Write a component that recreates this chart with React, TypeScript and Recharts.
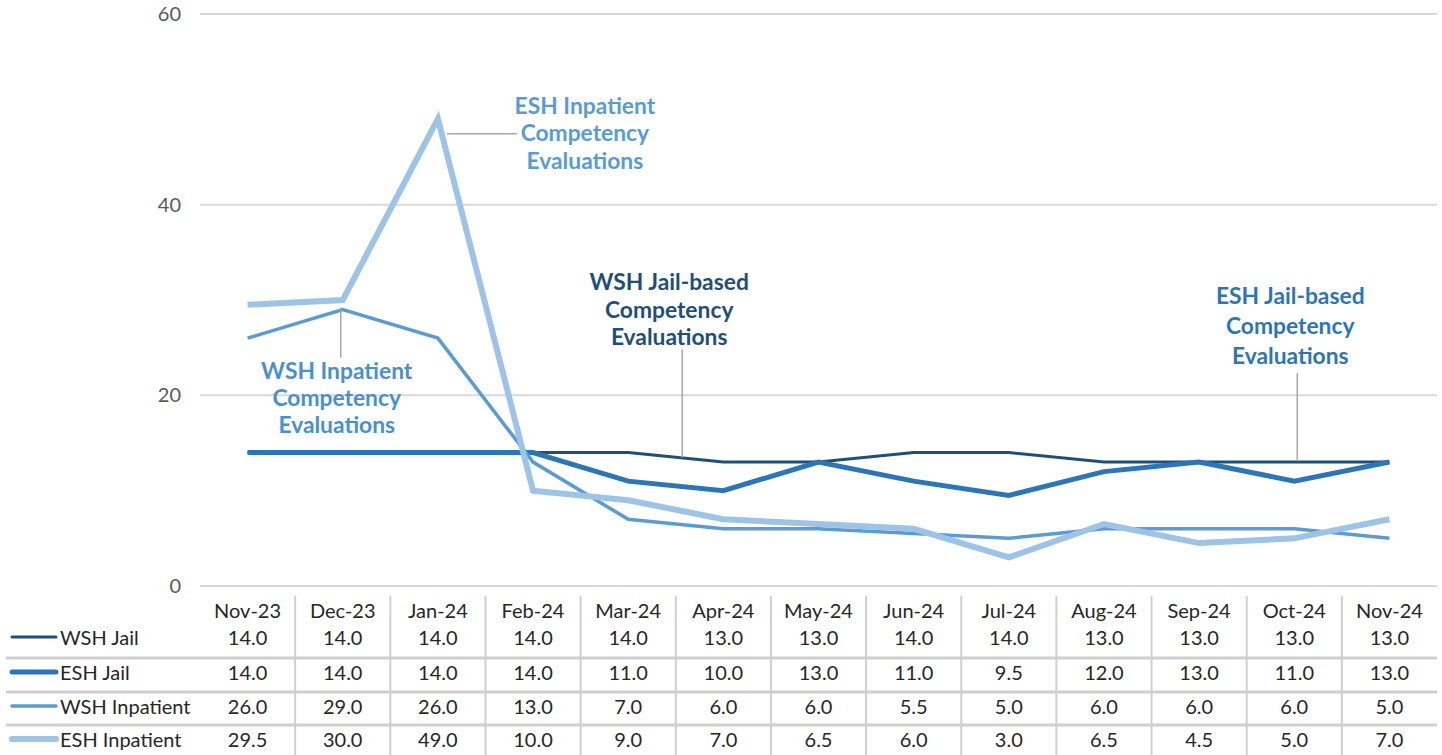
import React from 'react';
import { LineChart, Line, XAxis, YAxis, CartesianGrid } from 'recharts';

const months = ['Nov-23', 'Dec-23', 'Jan-24', 'Feb-24', 'Mar-24', 'Apr-24', 'May-24', 'Jun-24', 'Jul-24', 'Aug-24', 'Sep-24', 'Oct-24', 'Nov-24'];
const wshJail = [14, 14, 14, 14, 14, 13, 13, 14, 14, 13, 13, 13, 13];
const eshJail = [14, 14, 14, 14, 11, 10, 13, 11, 9.5, 12, 13, 11, 13];
const wshInpatient = [26, 29, 26, 13, 7, 6, 6, 5.5, 5, 6, 6, 6, 5];
const eshInpatient = [29.5, 30, 49, 10, 9, 7, 6.5, 6, 3, 6.5, 4.5, 5, 7];
const yTicks = [0, 20, 40, 60];

const series = [
  { key: 'wshJail', name: 'WSH Jail', values: wshJail, color: '#1f4e79', width: 3 },
  { key: 'eshJail', name: 'ESH Jail', values: eshJail, color: '#2e75b6', width: 5 },
  { key: 'wshInpatient', name: 'WSH Inpatient', values: wshInpatient, color: '#5b9bd5', width: 3.5 },
  { key: 'eshInpatient', name: 'ESH Inpatient', values: eshInpatient, color: '#9dc3e6', width: 6 },
];

const data = months.map((month, i) => {
  const row: Record<string, string | number> = { month };
  series.forEach((s) => { row[s.key] = s.values[i]; });
  return row;
});

const FONT = 'Lato, "Open Sans", sans-serif';
const W = 1442;
const H = 755;
const LEFT = 200;
const RIGHT = 5;
const STEP = (W - LEFT - RIGHT) / months.length;
const ROW_Y = [24, 51, 86, 120, 153];
const SEP_Y = [72, 106, 139];
const TABLE_FS = 20;

function TableTick(props: any) {
  const { x, y, payload, index } = props;
  const i = months.indexOf(payload.value);
  return (
    <g>
      {index === 0 && (
        <g>
          {SEP_Y.map((d) => (
            <line key={d} x1={6} x2={W - RIGHT} y1={y + d} y2={y + d} stroke="#cfcfcf" strokeWidth={3} />
          ))}
          {series.map((s, k) => (
            <g key={s.key}>
              <line x1={12} x2={56} y1={y + ROW_Y[k + 1]} y2={y + ROW_Y[k + 1]} stroke={s.color} strokeWidth={s.width} strokeLinecap="round" />
              <text x={60} y={y + ROW_Y[k + 1]} dominantBaseline="central" fontSize={TABLE_FS} fill="#262626" fontFamily={FONT}>{s.name}</text>
            </g>
          ))}
        </g>
      )}
      {i < months.length - 1 && (
        <line x1={x + STEP / 2} x2={x + STEP / 2} y1={y + 10} y2={H} stroke="#cfcfcf" strokeWidth={2} />
      )}
      <text x={x} y={y + ROW_Y[0]} textAnchor="middle" dominantBaseline="central" fontSize={TABLE_FS} fill="#262626" fontFamily={FONT}>{payload.value}</text>
      {series.map((s, k) => (
        <text key={s.key} x={x} y={y + ROW_Y[k + 1]} textAnchor="middle" dominantBaseline="central" fontSize={TABLE_FS} fill="#262626" fontFamily={FONT}>
          {s.values[i].toFixed(1)}
        </text>
      ))}
    </g>
  );
}

type Note = { index: number; lines: string[]; color: string; tx: number; ty: number[]; leader: [number, number, number, number] };

function makeNote(note: Note) {
  return (props: any) => {
    const { x, y, index } = props;
    if (index !== note.index) return null;
    const [x1, y1, x2, y2] = note.leader;
    return (
      <g>
        <line x1={x + x1} y1={y + y1} x2={x + x2} y2={y + y2} stroke="#a6a6a6" strokeWidth={1.5} />
        {note.lines.map((t, k) => (
          <text key={k} x={x + note.tx} y={y + note.ty[k]} textAnchor="middle" dominantBaseline="central" fontSize={22.8} fontWeight={700} fill={note.color} fontFamily={FONT}>
            {t}
          </text>
        ))}
      </g>
    );
  };
}

const notes: Record<string, Note> = {
  eshInpatient: { index: 2, lines: ['ESH Inpatient', 'Competency', 'Evaluations'], color: '#5b9bd5', tx: 147, ty: [-14, 13, 41], leader: [9, 15, 79, 15] },
  wshInpatient: { index: 1, lines: ['WSH Inpatient', 'Competency', 'Evaluations'], color: '#4a8fd0', tx: -6, ty: [60, 87, 114], leader: [-2, -2, -2, 48] },
  wshJail: { index: 4, lines: ['WSH Jail-based', 'Competency', 'Evaluations'], color: '#1f4e79', tx: 41, ty: [-172, -144, -117], leader: [54, -103, 54, 5] },
  eshJail: { index: 11, lines: ['ESH Jail-based', 'Competency', 'Evaluations'], color: '#2e75b6', tx: -4, ty: [-186, -156, -126], leader: [3, -108, 3, -21] },
};

export default function App() {
  return (
    <div style={{ position: 'absolute', left: 0, top: 0, width: W, height: H, background: '#fff' }}>
      <LineChart width={W} height={H} data={data} margin={{ top: 14, right: RIGHT, left: 0, bottom: 0 }}>
        <CartesianGrid vertical={false} stroke="#d9d9d9" strokeWidth={2} />
        <XAxis
          dataKey="month"
          height={H - 586}
          axisLine={false}
          tickLine={false}
          tickSize={0}
          tickMargin={0}
          interval={0}
          padding={{ left: STEP / 2, right: STEP / 2 }}
          tick={<TableTick />}
        />
        <YAxis
          width={LEFT}
          domain={[0, 60]}
          ticks={yTicks}
          axisLine={false}
          tickLine={false}
          tickSize={0}
          tickMargin={19}
          tick={{ fill: '#595959', fontSize: 20, fontFamily: FONT }}
        />
        {series.map((s) => (
          <Line
            key={s.key}
            dataKey={s.key}
            name={s.name}
            stroke={s.color}
            strokeWidth={s.width}
            dot={false}
            isAnimationActive={false}
            label={makeNote(notes[s.key])}
          />
        ))}
      </LineChart>
    </div>
  );
}
